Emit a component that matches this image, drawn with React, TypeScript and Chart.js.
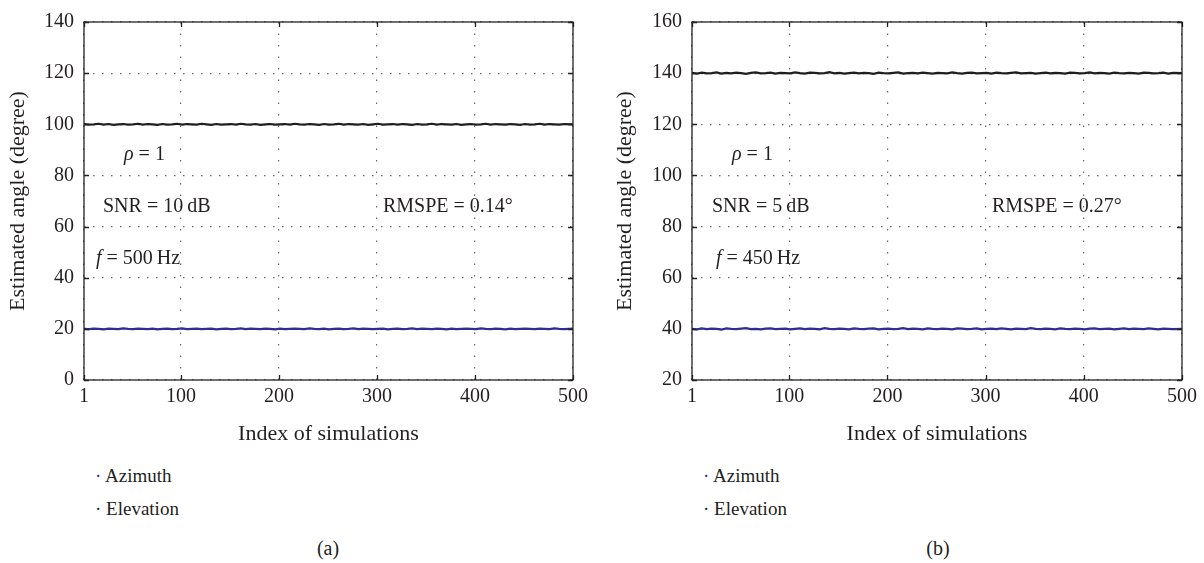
import React, { useEffect, useRef } from "react";
import { Chart, registerables } from "chart.js";

Chart.register(...registerables);

const FONT = "'Liberation Serif', 'Times New Roman', serif";
const TEXT = "#231f20";
const BLACK_LINE = "#1e1e1e";
const BLUE_LINE = "#2f2c94";

// Index of simulations (sampled)
const simIndex = [
  1, 6, 11, 16, 21, 26, 31, 36, 41, 46, 51, 56, 61, 66, 71, 76, 81, 86, 91, 96,
  101, 106, 111, 116, 121, 126, 131, 136, 141, 146, 151, 156, 161, 166, 171, 176, 181, 186, 191, 196,
  201, 206, 211, 216, 221, 226, 231, 236, 241, 246, 251, 256, 261, 266, 271, 276, 281, 286, 291, 296,
  301, 306, 311, 316, 321, 326, 331, 336, 341, 346, 351, 356, 361, 366, 371, 376, 381, 386, 391, 396,
  401, 406, 411, 416, 421, 426, 431, 436, 441, 446, 451, 456, 461, 466, 471, 476, 481, 486, 491, 500,
];

const xTickValues = [1, 100, 200, 300, 400, 500];

// Panel (a)
const elevationA = [
  100.1, 99.9, 100.0, 100.2, 99.9, 100.1, 99.8, 100.0, 100.1, 99.9,
  100.0, 100.2, 99.9, 100.1, 100.0, 99.8, 100.1, 99.9, 100.0, 100.2,
  99.9, 100.1, 100.0, 99.9, 100.2, 100.0, 99.8, 100.1, 99.9, 100.0,
  100.1, 99.9, 100.2, 100.0, 99.9, 100.1, 99.8, 100.0, 100.1, 99.9,
  100.0, 100.1, 99.9, 100.2, 100.0, 99.9, 100.1, 100.0, 99.8, 100.1,
  99.9, 100.0, 100.2, 99.9, 100.1, 100.0, 99.9, 100.1, 99.8, 100.0,
  100.2, 99.9, 100.0, 100.1, 99.9, 100.1, 100.0, 99.8, 100.1, 99.9,
  100.0, 100.2, 99.9, 100.1, 100.0, 99.9, 100.1, 99.8, 100.0, 100.1,
  99.9, 100.0, 100.2, 99.9, 100.1, 100.0, 99.9, 100.1, 100.0, 99.8,
  100.1, 99.9, 100.0, 100.2, 99.9, 100.1, 100.0, 99.9, 100.1, 100.0,
];
const azimuthA = [
  20.0, 19.9, 20.1, 20.0, 19.8, 20.1, 20.0, 19.9, 20.2, 20.0,
  19.9, 20.1, 20.0, 19.9, 20.1, 19.8, 20.0, 20.1, 19.9, 20.0,
  20.2, 19.9, 20.0, 20.1, 19.9, 20.0, 20.1, 19.8, 20.0, 20.1,
  19.9, 20.0, 20.2, 19.9, 20.1, 20.0, 19.9, 20.1, 20.0, 19.8,
  20.1, 19.9, 20.0, 20.1, 20.0, 19.9, 20.2, 20.0, 19.9, 20.1,
  19.8, 20.0, 20.1, 19.9, 20.0, 20.2, 19.9, 20.1, 20.0, 19.9,
  20.0, 20.1, 19.8, 20.0, 20.1, 19.9, 20.0, 20.2, 19.9, 20.1,
  20.0, 19.9, 20.1, 20.0, 19.8, 20.1, 19.9, 20.0, 20.1, 20.0,
  19.9, 20.2, 20.0, 19.9, 20.1, 20.0, 19.8, 20.1, 19.9, 20.0,
  20.1, 20.0, 19.9, 20.1, 20.0, 19.9, 20.2, 20.0, 19.9, 20.1,
];

// Panel (b)
const elevationB = [
  140.1, 139.8, 140.2, 139.9, 140.0, 140.3, 139.8, 140.1, 139.9, 140.2,
  140.0, 139.7, 140.1, 140.3, 139.9, 140.0, 140.2, 139.8, 140.1, 140.0,
  139.9, 140.3, 140.0, 139.8, 140.2, 140.1, 139.9, 140.0, 140.4, 139.9,
  140.1, 139.8, 140.0, 140.2, 139.9, 140.1, 140.0, 139.7, 140.2, 140.0,
  139.9, 140.1, 140.3, 139.8, 140.0, 140.1, 139.9, 140.2, 140.0, 139.8,
  140.1, 140.0, 139.9, 140.3, 140.0, 139.8, 140.1, 140.2, 139.9, 140.0,
  140.1, 139.8, 140.2, 140.0, 139.9, 140.1, 140.3, 139.9, 140.0, 140.1,
  139.8, 140.0, 140.2, 139.9, 140.1, 140.0, 139.8, 140.2, 140.1, 139.9,
  140.0, 140.3, 139.9, 140.1, 140.0, 139.8, 140.2, 140.0, 139.9, 140.1,
  140.0, 139.8, 140.2, 140.1, 139.9, 140.0, 140.2, 139.8, 140.1, 140.0,
];
const azimuthB = [
  40.0, 39.8, 40.2, 39.9, 40.1, 40.0, 39.7, 40.2, 40.0, 39.9,
  40.1, 40.3, 39.9, 40.0, 39.8, 40.1, 40.2, 39.9, 40.0, 40.1,
  39.8, 40.0, 40.2, 39.9, 40.1, 40.0, 39.8, 40.3, 40.0, 39.9,
  40.1, 40.0, 39.8, 40.2, 40.0, 39.9, 40.1, 40.2, 39.8, 40.0,
  40.1, 39.9, 40.0, 40.3, 39.9, 40.1, 40.0, 39.8, 40.2, 40.0,
  39.9, 40.1, 40.0, 39.8, 40.2, 40.1, 39.9, 40.0, 40.2, 39.8,
  40.0, 40.1, 39.9, 40.2, 40.0, 39.8, 40.1, 40.0, 39.9, 40.3,
  40.0, 39.9, 40.1, 40.0, 39.8, 40.2, 40.0, 39.9, 40.1, 40.0,
  39.8, 40.1, 40.2, 39.9, 40.0, 40.1, 39.8, 40.0, 40.2, 39.9,
  40.1, 40.0, 39.9, 40.2, 40.0, 39.8, 40.1, 40.0, 39.9, 40.0,
];

const seriesNames = ["Azimuth", "Elevation"];
const xTitle = "Index of simulations";
const yTitle = "Estimated angle (degree)";

type Seg = { t: string; i?: boolean };
type Annot = { x: number; y: number; segs: Seg[] };

type PanelCfg = {
  left: number;
  width: number;
  yAxisWidth: number;
  padRight: number;
  yTitlePad: number;
  yMin: number;
  yMax: number;
  azimuth: number[];
  elevation: number[];
  annots: Annot[];
  legendX: number;
  caption: string;
  captionX: number;
};

const CANVAS_H = 460;
const PLOT_TOP = 14;
const PLOT_BOTTOM = 380;

const panels: PanelCfg[] = [
  {
    left: 0,
    width: 604,
    yAxisWidth: 84,
    padRight: 31,
    yTitlePad: 5,
    yMin: 0,
    yMax: 140,
    azimuth: azimuthA,
    elevation: elevationA,
    annots: [
      { x: 124, y: 160, segs: [{ t: "ρ", i: true }, { t: " = 1" }] },
      { x: 103, y: 212, segs: [{ t: "SNR = 10\u2009dB" }] },
      { x: 96, y: 264, segs: [{ t: "f", i: true }, { t: " = 500\u2009Hz" }] },
      { x: 383, y: 212, segs: [{ t: "RMSPE = 0.14°" }] },
    ],
    legendX: 95,
    caption: "(a)",
    captionX: 328,
  },
  {
    left: 604,
    width: 600,
    yAxisWidth: 88,
    padRight: 22,
    yTitlePad: 8,
    yMin: 20,
    yMax: 160,
    azimuth: azimuthB,
    elevation: elevationB,
    annots: [
      { x: 732, y: 160, segs: [{ t: "ρ", i: true }, { t: " = 1" }] },
      { x: 712, y: 212, segs: [{ t: "SNR = 5\u2009dB" }] },
      { x: 716, y: 264, segs: [{ t: "f", i: true }, { t: " = 450\u2009Hz" }] },
      { x: 992, y: 212, segs: [{ t: "RMSPE = 0.27°" }] },
    ],
    legendX: 703,
    caption: "(b)",
    captionX: 938,
  },
];

const FS = 20;
const TITLE_FS = 22;
const LEGEND_FS = 19;

function Panel({ cfg }: { cfg: PanelCfg }) {
  const ref = useRef<HTMLCanvasElement | null>(null);
  useEffect(() => {
    if (!ref.current) return;
    const framePlugin = {
      id: "frameAndNotes",
      afterDatasetsDraw(chart: any) {
        const { ctx, chartArea: a, scales } = chart;
        ctx.save();
        ctx.strokeStyle = "#222";
        ctx.lineWidth = 1.3;
        ctx.strokeRect(a.left, a.top, a.right - a.left, a.bottom - a.top);
        const tl = 5;
        ctx.beginPath();
        scales.x.ticks.forEach((t: any) => {
          const px = Math.round(scales.x.getPixelForValue(t.value)) + 0.5;
          ctx.moveTo(px, a.bottom);
          ctx.lineTo(px, a.bottom - tl);
          ctx.moveTo(px, a.top);
          ctx.lineTo(px, a.top + tl);
        });
        scales.y.ticks.forEach((t: any) => {
          const py = Math.round(scales.y.getPixelForValue(t.value)) + 0.5;
          ctx.moveTo(a.left, py);
          ctx.lineTo(a.left + tl, py);
          ctx.moveTo(a.right, py);
          ctx.lineTo(a.right - tl, py);
        });
        ctx.stroke();
        // annotations
        ctx.fillStyle = TEXT;
        ctx.textBaseline = "alphabetic";
        ctx.textAlign = "left";
        cfg.annots.forEach((an) => {
          let x = an.x - cfg.left;
          an.segs.forEach((s) => {
            ctx.font = `${s.i ? "italic " : ""}${FS}px ${FONT}`;
            ctx.fillText(s.t, x, an.y);
            x += ctx.measureText(s.t).width;
          });
        });
        ctx.restore();
      },
    };
    const chart = new Chart(ref.current, {
      type: "line",
      data: {
        datasets: [
          {
            label: seriesNames[1],
            data: simIndex.map((x, i) => ({ x, y: cfg.elevation[i] })),
            borderColor: BLACK_LINE,
            borderWidth: 2.2,
            pointRadius: 0,
            tension: 0,
          },
          {
            label: seriesNames[0],
            data: simIndex.map((x, i) => ({ x, y: cfg.azimuth[i] })),
            borderColor: BLUE_LINE,
            borderWidth: 2.2,
            pointRadius: 0,
            tension: 0,
          },
        ],
      },
      options: {
        responsive: false,
        animation: false,
        devicePixelRatio: 1,
        layout: { padding: { top: PLOT_TOP, right: cfg.padRight, left: 0, bottom: 0 } },
        plugins: { legend: { display: false }, tooltip: { enabled: false } },
        scales: {
          x: {
            type: "linear",
            min: 1,
            max: 500,
            afterBuildTicks: (s: any) => {
              s.ticks = xTickValues.map((v) => ({ value: v }));
            },
            afterFit: (s: any) => {
              s.height = CANVAS_H - PLOT_BOTTOM;
            },
            ticks: {
              color: TEXT,
              font: { family: FONT, size: FS },
              padding: 5,
              maxRotation: 0,
              autoSkip: false,
            },
            grid: { color: "#6a6a6a", lineWidth: 1.2, drawTicks: false },
            border: { display: false, dash: [1.5, 10] },
            title: {
              display: true,
              text: xTitle,
              color: TEXT,
              font: { family: FONT, size: TITLE_FS },
              padding: { top: 0, bottom: 13 },
            },
          },
          y: {
            type: "linear",
            min: cfg.yMin,
            max: cfg.yMax,
            ticks: {
              stepSize: 20,
              color: TEXT,
              font: { family: FONT, size: FS },
              padding: 10,
            },
            afterFit: (s: any) => {
              s.width = cfg.yAxisWidth;
            },
            grid: { color: "#6a6a6a", lineWidth: 1.2, drawTicks: false },
            border: { display: false, dash: [1.5, 7.5] },
            title: {
              display: true,
              text: yTitle,
              color: TEXT,
              font: { family: FONT, size: TITLE_FS },
              padding: { top: cfg.yTitlePad, bottom: 0 },
            },
          },
        },
      },
      plugins: [framePlugin],
    } as any);
    return () => chart.destroy();
  }, [cfg]);

  const legendStyle: React.CSSProperties = {
    position: "absolute",
    left: cfg.legendX,
    fontFamily: FONT,
    fontSize: LEGEND_FS,
    color: TEXT,
    whiteSpace: "nowrap",
    lineHeight: "22px",
  };
  return (
    <>
      <canvas
        ref={ref}
        width={cfg.width}
        height={CANVAS_H}
        style={{ position: "absolute", left: cfg.left, top: 0, width: cfg.width, height: CANVAS_H }}
      />
      <div style={{ ...legendStyle, top: 465 }}>
        <span style={{ color: BLUE_LINE }}>·</span> {seriesNames[0]}
      </div>
      <div style={{ ...legendStyle, top: 498 }}>
        <span style={{ color: BLACK_LINE }}>·</span> {seriesNames[1]}
      </div>
      <div
        style={{
          position: "absolute",
          left: cfg.captionX - 40,
          width: 80,
          textAlign: "center",
          top: 536,
          fontFamily: FONT,
          fontSize: FS,
          color: TEXT,
          lineHeight: "24px",
        }}
      >
        {cfg.caption}
      </div>
    </>
  );
}

export default function App() {
  return (
    <div
      style={{
        position: "fixed",
        left: 0,
        top: 0,
        width: 1204,
        height: 563,
        background: "#fff",
        overflow: "hidden",
      }}
    >
      {panels.map((p) => (
        <Panel key={p.caption} cfg={p} />
      ))}
    </div>
  );
}
